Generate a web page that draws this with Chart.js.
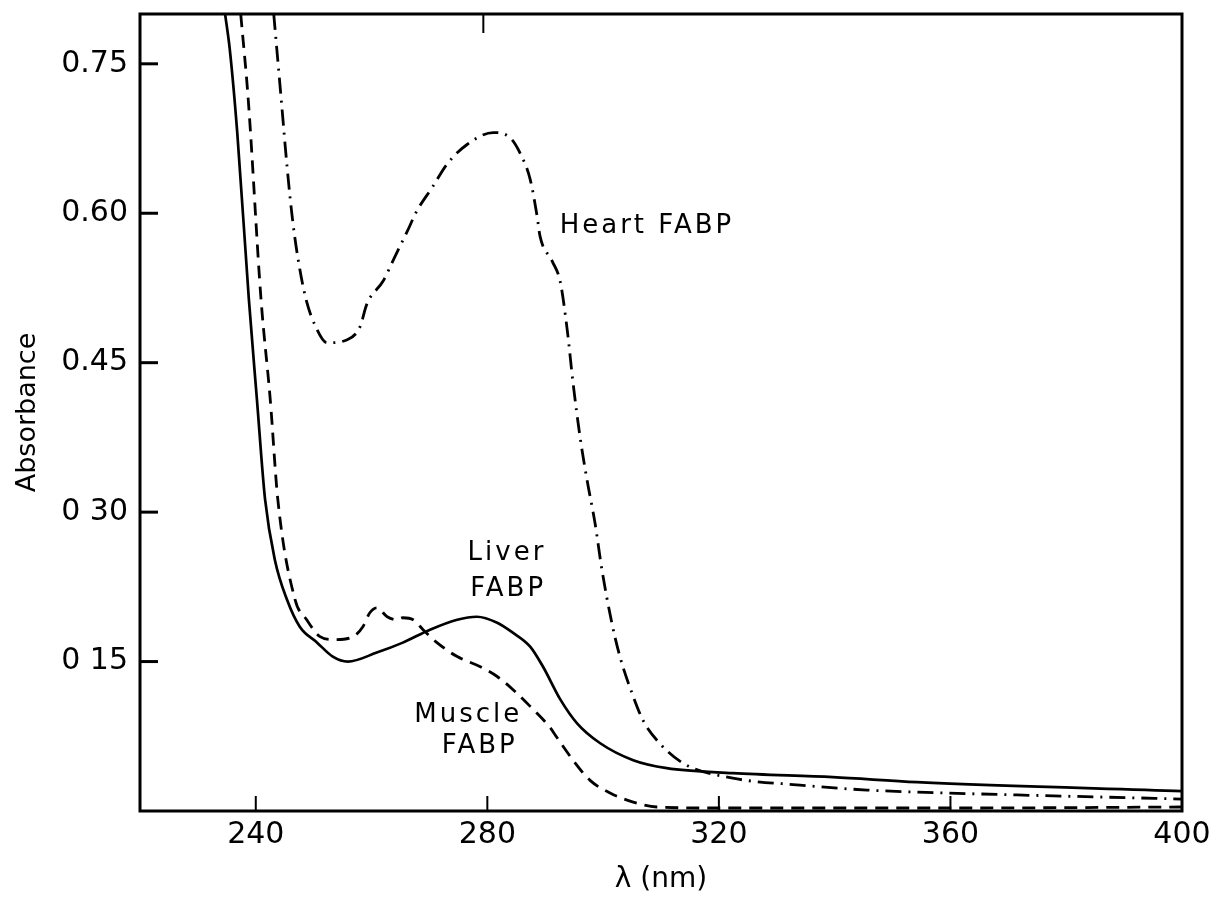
<!DOCTYPE html>
<html>
<head>
<meta charset="utf-8">
<script src="https://cdn.jsdelivr.net/npm/chart.js@4.4.0/dist/chart.umd.min.js"></script>
<style>
html, body { margin: 0; padding: 0; background: #fff; }
#wrap { width: 1220px; height: 897px; }
</style>
</head>
<body>
<div id="wrap"><canvas id="spectra"></canvas></div>
<script>
// UV spectra of the three FABPs: wavelength (nm) and absorbance
const liverNm  = [234.7, 235.5, 236.8, 238.8, 240.2, 241.6, 243.3, 245.4, 247.6, 250.6, 253.3, 255.9, 260.9, 265.4, 270.1, 274.8, 278.2, 281.7, 284.4, 287.4, 289.6, 292.6, 295.5, 299.5, 305.2, 311.0, 322.4, 339.7, 354.2, 400];
const liverAbs = [0.80, 0.765, 0.681, 0.514, 0.413, 0.313, 0.252, 0.212, 0.185, 0.169, 0.155, 0.150, 0.159, 0.169, 0.182, 0.192, 0.195, 0.189, 0.179, 0.165, 0.145, 0.112, 0.088, 0.068, 0.051, 0.043, 0.038, 0.034, 0.029, 0.020];

const muscleNm  = [237.4, 238.7, 240.9, 242.5, 243.8, 246.8, 248.8, 251.1, 253.5, 256.8, 258.5, 259.7, 260.9, 262.7, 264.4, 265.4, 267.2, 268.9, 271.3, 274.8, 278.7, 281.7, 284.4, 287.4, 290.8, 292.0, 294.8, 297.7, 301.2, 305.2, 309.3, 320, 360, 400];
const muscleAbs = [0.80, 0.714, 0.514, 0.413, 0.313, 0.212, 0.192, 0.175, 0.172, 0.175, 0.185, 0.199, 0.204, 0.195, 0.192, 0.194, 0.192, 0.182, 0.169, 0.155, 0.145, 0.135, 0.122, 0.105, 0.084, 0.074, 0.051, 0.031, 0.018, 0.009, 0.004, 0.003, 0.003, 0.004];

const heartNm  = [243.1, 244.4, 245.4, 246.4, 247.6, 248.8, 250.2, 252.3, 255.8, 258.0, 259.2, 262.0, 264.0, 266.1, 267.8, 270.6, 273.0, 276.5, 281.0, 283.9, 285.6, 287.4, 288.6, 289.1, 291.2, 292.6, 293.8, 294.8, 296.0, 297.2, 298.6, 299.8, 301.5, 302.9, 305.2, 306.9, 309.3, 313.8, 322.4, 334.0, 345.6, 354.2, 400];
const heartAbs = [0.80, 0.714, 0.647, 0.591, 0.544, 0.511, 0.488, 0.470, 0.473, 0.486, 0.509, 0.532, 0.556, 0.581, 0.602, 0.627, 0.649, 0.669, 0.681, 0.676, 0.661, 0.634, 0.597, 0.577, 0.552, 0.531, 0.483, 0.430, 0.376, 0.333, 0.289, 0.242, 0.189, 0.155, 0.115, 0.091, 0.071, 0.048, 0.033, 0.026, 0.021, 0.019, 0.012];

const xTicks = [240, 280, 320, 360, 400];
const yTicks = [0.15, 0.30, 0.45, 0.60, 0.75];
const yTickLabels = ['0 15', '0 30', '0.45', '0.60', '0.75'];
const topTicks = [280];

// curve names written beside the traces (anchored in data units)
const curveLabels = [
    { text: 'Heart FABP', nm: 292.5, abs: 0.587, align: 'left' },
    { text: 'Liver', nm: 283.4, abs: 0.259, align: 'center' },
    { text: 'FABP', nm: 283.6, abs: 0.223, align: 'center' },
    { text: 'Muscle', nm: 276.7, abs: 0.096, align: 'center' },
    { text: 'FABP', nm: 278.7, abs: 0.065, align: 'center' },
];

const FONT = '"DejaVu Sans", sans-serif';

function pts(xs, ys) {
    return xs.map((x, i) => ({ x: x, y: ys[i] }));
}

// box round the plot plus inward tick marks
const framePlugin = {
    id: 'frame',
    afterDatasetsDraw(chart) {
        const { ctx, chartArea: a, scales } = chart;
        ctx.save();
        ctx.strokeStyle = '#000';
        ctx.lineWidth = 3;
        ctx.strokeRect(a.left, a.top, a.right - a.left, a.bottom - a.top);
        yTicks.forEach(v => {
            const y = scales.y.getPixelForValue(v);
            ctx.beginPath();
            ctx.moveTo(a.left, y);
            ctx.lineTo(a.left + 18, y);
            ctx.stroke();
        });
        ctx.lineWidth = 2;
        xTicks.forEach(v => {
            const x = scales.x.getPixelForValue(v);
            ctx.beginPath();
            ctx.moveTo(x, a.bottom);
            ctx.lineTo(x, a.bottom - 15);
            ctx.stroke();
        });
        topTicks.forEach(v => {
            const x = scales.x.getPixelForValue(v) - 4;
            ctx.beginPath();
            ctx.moveTo(x, a.top);
            ctx.lineTo(x, a.top + 19);
            ctx.stroke();
        });
        ctx.restore();
    }
};

const curveLabelPlugin = {
    id: 'curveLabels',
    afterDatasetsDraw(chart) {
        const { ctx, scales } = chart;
        ctx.save();
        ctx.fillStyle = '#000';
        ctx.font = '26px ' + FONT;
        ctx.letterSpacing = '3px';
        ctx.textBaseline = 'middle';
        curveLabels.forEach(l => {
            ctx.textAlign = l.align;
            ctx.fillText(l.text, scales.x.getPixelForValue(l.nm), scales.y.getPixelForValue(l.abs));
        });
        ctx.restore();
    }
};

const common = {
    borderColor: '#000',
    pointRadius: 0,
    fill: false,
    cubicInterpolationMode: 'monotone',
};

new Chart(document.getElementById('spectra').getContext('2d'), {
    type: 'line',
    data: {
        datasets: [
            Object.assign({ label: 'Liver FABP', data: pts(liverNm, liverAbs), borderWidth: 2.7 }, common),
            Object.assign({ label: 'Muscle FABP', data: pts(muscleNm, muscleAbs), borderWidth: 2.8, borderDash: [13, 8] }, common),
            Object.assign({ label: 'Heart FABP', data: pts(heartNm, heartAbs), borderWidth: 2.8, borderDash: [16, 7, 2, 7] }, common),
        ],
    },
    options: {
        responsive: true,
        maintainAspectRatio: false,
        animation: false,
        devicePixelRatio: 1,
        layout: { padding: { top: 14, right: 38, left: 0, bottom: 0 } },
        plugins: {
            legend: { display: false },
            tooltip: { enabled: false },
        },
        scales: {
            x: {
                type: 'linear',
                min: 220,
                max: 400,
                afterBuildTicks: scale => { scale.ticks = xTicks.map(v => ({ value: v })); },
                afterFit: scale => { scale.height = 86; },
                grid: { display: false, drawTicks: false },
                border: { display: false },
                ticks: {
                    color: '#000',
                    padding: 6,
                    maxRotation: 0,
                    font: { family: FONT, size: 30 },
                    callback: v => String(v),
                },
                title: {
                    display: true,
                    text: 'λ (nm)',
                    color: '#000',
                    font: { family: FONT, size: 28 },
                    padding: { top: 0, bottom: 0 },
                },
            },
            y: {
                type: 'linear',
                min: 0,
                max: 0.80,
                afterBuildTicks: scale => { scale.ticks = yTicks.map(v => ({ value: v })); },
                afterFit: scale => {
                    scale.width = 140;
                    scale.paddingTop = 0;
                    scale.paddingBottom = 0;
                },
                grid: { display: false, drawTicks: false },
                border: { display: false },
                ticks: {
                    color: '#000',
                    padding: 12,
                    font: { family: FONT, size: 30 },
                    callback: v => yTickLabels[yTicks.indexOf(Math.round(v * 100) / 100)],
                },
                title: {
                    display: true,
                    text: 'Absorbance',
                    color: '#000',
                    font: { family: FONT, size: 27 },
                    padding: { top: 12, bottom: 0 },
                },
            },
        },
    },
    plugins: [framePlugin, curveLabelPlugin],
});
</script>
</body>
</html>
